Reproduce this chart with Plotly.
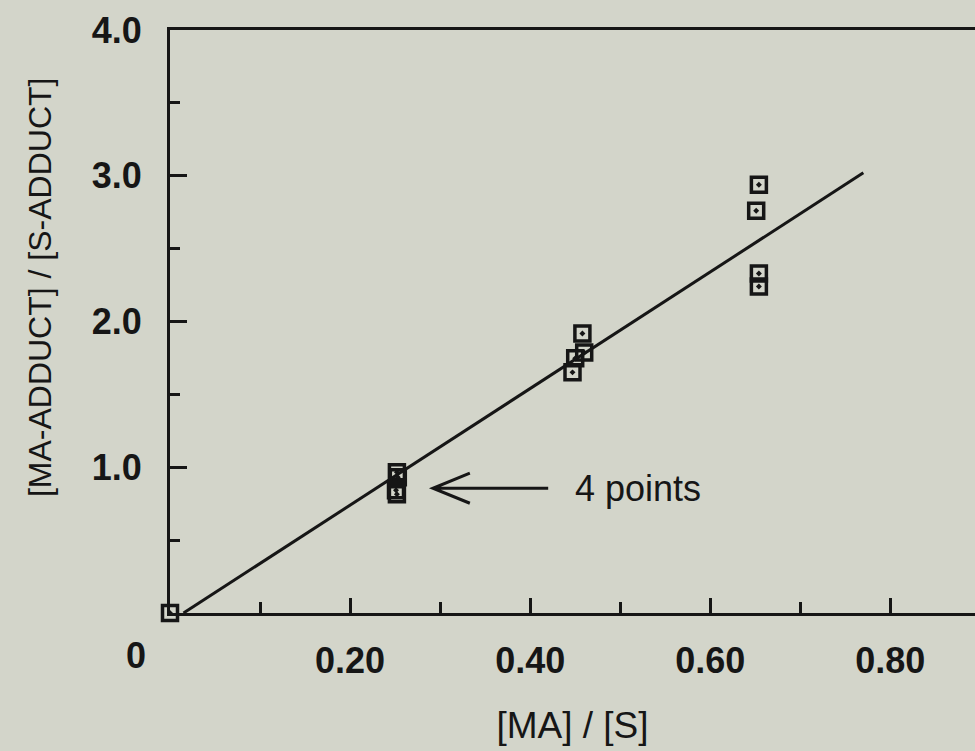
import plotly.graph_objects as go

# ---- data ----
pts_x = [0.0,
         0.252, 0.253, 0.251, 0.252,
         0.458, 0.460, 0.450, 0.447,
         0.654, 0.651, 0.654, 0.654]
pts_y = [0.0,
         0.966, 0.932, 0.842, 0.815,
         1.918, 1.788, 1.747, 1.651,
         2.938, 2.760, 2.329, 2.240]

fit_x = [0.015, 0.770]
fit_y = [0.0, 3.02]

x_tickvals = [0.2, 0.4, 0.6, 0.8]
x_ticktext = ["0.20", "0.40", "0.60", "0.80"]
x_minor = [0.1, 0.3, 0.5, 0.7]
y_tickvals = [1, 2, 3, 4]
y_ticktext = ["1.0", "2.0", "3.0", "4.0"]
y_minor = [0.5, 1.5, 2.5, 3.5]

ink = "#161616"
bg = "#d3d5ca"
font = "Liberation Sans, Arial, sans-serif"

fig = go.Figure()
fig.add_trace(go.Scatter(x=fit_x, y=fit_y, mode="lines",
                         line=dict(color=ink, width=3), hoverinfo="skip"))
fig.add_trace(go.Scatter(x=pts_x, y=pts_y, mode="markers", cliponaxis=False,
                         marker=dict(symbol="square-open-dot", size=15, color=ink,
                                     line=dict(width=3.5, color=ink))))

tick_font = dict(size=36, family=font, color=ink, weight="bold")

fig.update_layout(
    width=975, height=751,
    margin=dict(l=170, r=0, t=30, b=138),
    paper_bgcolor=bg, plot_bgcolor=bg,
    showlegend=False,
    font=dict(family=font, color=ink),
    xaxis=dict(range=[0, 0.894], showline=True, linewidth=3, linecolor=ink, mirror=True,
               showgrid=False, zeroline=False,
               ticks="inside", tickvals=x_tickvals, ticktext=x_ticktext,
               ticklen=15, tickwidth=3, tickcolor=ink,
               tickfont=tick_font,
               ticklabelstandoff=14,
               minor=dict(tickvals=x_minor, ticks="inside", ticklen=11, tickwidth=3, tickcolor=ink),
               title=dict(text="[MA] / [S]", font=dict(size=37, family=font, color=ink), standoff=32)),
    yaxis=dict(range=[0, 4], showline=True, linewidth=3, linecolor=ink,
               showgrid=False, zeroline=False,
               ticks="inside", tickvals=y_tickvals, ticktext=y_ticktext,
               ticklen=17, tickwidth=3, tickcolor=ink,
               tickfont=tick_font,
               ticklabelstandoff=18,
               minor=dict(tickvals=y_minor, ticks="inside", ticklen=10, tickwidth=3, tickcolor=ink)),
)

fig.add_annotation(text="[MA-ADDUCT] / [S-ADDUCT]", textangle=-90,
                   xref="paper", yref="paper", x=-0.1615, y=0.559,
                   xanchor="center", yanchor="middle", showarrow=False,
                   font=dict(size=32, family=font, color=ink))
fig.add_annotation(text="0", xref="x", yref="y", x=0, y=0,
                   xanchor="right", yanchor="top", xshift=-22, yshift=-20,
                   showarrow=False, font=tick_font)
fig.add_annotation(text="4 points", xref="x", yref="y", x=0.448, y=0.856,
                   xanchor="left", yanchor="middle", showarrow=False,
                   font=dict(size=36, family=font, color=ink))
fig.add_shape(type="path", xref="x", yref="y",
              path="M 0.42,0.856 L 0.292,0.856 M 0.333,0.959 L 0.292,0.856 L 0.333,0.753",
              line=dict(color=ink, width=3))

fig.write_html("out.html")
